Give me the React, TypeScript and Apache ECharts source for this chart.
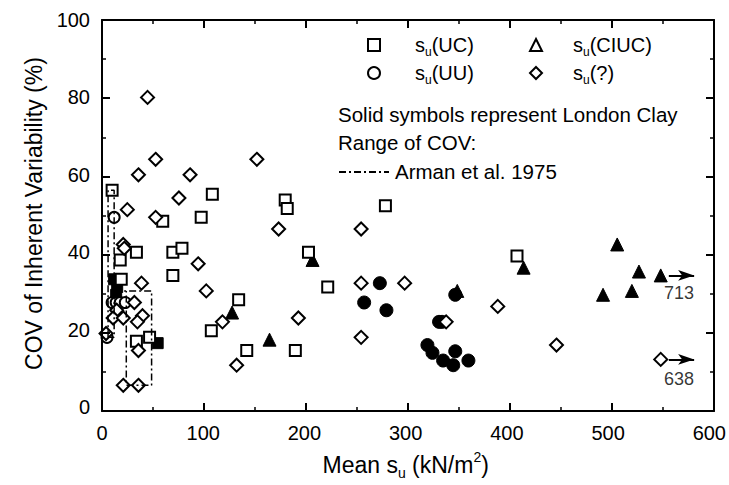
import React, { useEffect, useRef } from "react";
import * as echarts from "echarts";

// Mean su (kN/m2), COV (%)
const ucOpen: number[][] = [
  [10, 56], [60, 48], [98, 49], [109, 55], [181, 53.5], [183, 51.3], [280, 52],
  [204, 40], [223, 31], [410, 39], [70, 40], [79, 41], [70, 34], [34, 40],
  [18, 38], [19, 33], [135, 27.7], [108, 19.7], [143, 14.6], [191, 14.6],
  [34, 17], [47, 18],
];
const ucSolid: number[][] = [[12, 33], [15, 31], [14, 29], [55, 16.5]];
const uuOpen: number[][] = [[12, 49], [5, 18], [10, 27], [14, 27], [18, 27], [23, 27]];
const uuSolid: number[][] = [
  [274.5, 32], [259, 27], [281, 25], [333, 22], [336, 22], [321.5, 16],
  [326.5, 14], [337, 12], [347, 10.8], [349, 14.4], [362, 12], [349, 29],
];
const ciucSolid: number[][] = [
  [208, 38], [128.5, 24.4], [165.5, 17.4], [351, 30], [416.5, 36], [495, 29],
  [509, 42], [523.5, 30], [530.5, 35], [552, 34],
];
const unknownOpen: number[][] = [
  [45, 80], [53, 64], [36, 60], [87, 60], [153, 64], [76, 54], [25, 51],
  [53, 49], [21, 42], [22, 41], [95, 37], [103, 30], [174.5, 46], [256, 46],
  [39, 32], [256, 32], [299, 32], [32, 27], [14.5, 25], [11, 23], [21, 23],
  [40, 23.6], [35, 22], [119, 22], [194, 23], [4, 19], [36, 14.6], [256, 18],
  [133, 10.8], [21, 5.6], [36, 5.6], [340, 22], [391, 26], [449, 16], [552, 12.3],
];
// Arman et al. 1975 range boxes
const armanBox1: number[][] = [[6, 18], [6, 56], [12, 56], [12, 18], [6, 18]];
const armanBox2: number[][] = [[12, 30], [49, 30], [49, 5.6], [24, 5.6], [24, 30]];
// off-scale values (arrows)
const offScale = [
  { from: [560, 34], to: [585, 34], label: "713", labelAt: [570, 29.5] },
  { from: [560, 12.3], to: [585, 12.3], label: "638", labelAt: [570, 7.2] },
];
const xTicks = [0, 100, 200, 300, 400, 500, 600];
const yTicks = [0, 20, 40, 60, 80, 100];
const noteLines = ["Solid symbols represent London Clay", "Range of COV:", "Arman et al. 1975"];

const FONT = "Liberation Sans";
const GRID = { left: 102, right: 15, top: 20, bottom: 74 };

export default function App() {
  const ref = useRef<HTMLDivElement>(null);
  const frameRef = useRef<HTMLDivElement>(null);
  useEffect(() => {
    if (!ref.current || !frameRef.current) return;
    const chart = echarts.init(ref.current, null, { renderer: "svg" });
    const frame = echarts.init(frameRef.current, null, { renderer: "svg" });
    const xMin = xTicks[0];
    const xMax = xTicks[xTicks.length - 1];
    const yMin = yTicks[0];
    const yMax = yTicks[yTicks.length - 1];
    const openStyle = { color: "#fff", borderColor: "#000", borderWidth: 2, opacity: 1 };
    const solidStyle = { color: "#000", borderColor: "#000", borderWidth: 1, opacity: 1 };

    // main chart: data, labels, legend, notes (no axis lines)
    const plainAxis = (pos: string, mn: number, mx: number, iv: number) => ({
      type: "value", min: mn, max: mx, interval: iv, position: pos,
      axisLine: { show: false, onZero: false },
      axisTick: { show: false },
      minorTick: { show: false },
      splitLine: { show: false },
      axisLabel: { show: false },
    });
    const legendRich = {
      p: { fontSize: 20, fontFamily: FONT, color: "#000", lineHeight: 26 },
      s: { fontSize: 20, fontFamily: FONT, color: "#000", lineHeight: 26 },
      u: { fontSize: 12, fontFamily: FONT, color: "#000", lineHeight: 12, verticalAlign: "bottom" },
    };
    const mkLegend = (name: string, left: number, top: number, pad: number) => ({
      data: [name], left, top, itemWidth: 12, itemHeight: 12, padding: 0,
      formatter: (n: string) => `{p|s}{u|u}{s|(${n})}`,
      textStyle: { rich: { ...legendRich, p: { ...legendRich.p, padding: [0, 0, 0, pad] } } },
      selectedMode: false,
    });
    const nameRich = {
      a: { fontSize: 23, fontFamily: FONT, color: "#000", lineHeight: 30 },
      sub: { fontSize: 14, fontFamily: FONT, color: "#000", lineHeight: 14, verticalAlign: "bottom" },
      sup: { fontSize: 14, fontFamily: FONT, color: "#000", lineHeight: 14, verticalAlign: "top" },
    };
    const noteFont = `20.5px "${FONT}"`;
    chart.setOption({
      animation: false,
      grid: GRID,
      legend: [
        mkLegend("UC", 367, 35, 30),
        mkLegend("CIUC", 529, 35, 26),
        mkLegend("UU", 367, 63, 30),
        mkLegend("?", 529, 63, 26),
      ],
      graphic: [
        { type: "text", left: 338, top: 104, style: { text: noteLines[0], font: noteFont, fill: "#000" } },
        { type: "text", left: 338, top: 132, style: { text: noteLines[1], font: noteFont, fill: "#000" } },
        {
          type: "line", shape: { x1: 339, y1: 172, x2: 389, y2: 172 },
          style: { stroke: "#000", lineWidth: 2, lineDash: [7, 3, 2, 3] },
        },
        { type: "text", left: 395, top: 161, style: { text: noteLines[2], font: noteFont, fill: "#000" } },
      ],
      xAxis: [
        {
          ...plainAxis("bottom", xMin, xMax, 100),
          axisLabel: { show: true, fontSize: 20, color: "#000", margin: 16, fontFamily: FONT },
          name: "{a|Mean s}{sub|u}{a| (kN/m}{sup|2}{a|)}",
          nameLocation: "middle",
          nameGap: 43,
          nameTextStyle: { rich: nameRich },
        },
      ],
      yAxis: [
        {
          ...plainAxis("left", yMin, yMax, 20),
          axisLabel: { show: true, fontSize: 20, color: "#000", margin: 12, fontFamily: FONT },
          name: "COV of Inherent Variability (%)",
          nameLocation: "middle",
          nameGap: 57,
          nameTextStyle: { fontSize: 23, color: "#000", fontFamily: FONT },
        },
      ],
      series: [
        {
          type: "line", data: armanBox1, symbol: "none", silent: true,
          lineStyle: { color: "#000", width: 1.5, type: [7, 3, 2, 3] },
        },
        {
          type: "line", data: armanBox2, symbol: "none", silent: true,
          lineStyle: { color: "#000", width: 1.5, type: [7, 3, 2, 3] },
        },
        { name: "UC_LC", type: "scatter", data: ucSolid, symbol: "rect", symbolSize: 11, itemStyle: solidStyle },
        { name: "UU_LC", type: "scatter", data: uuSolid, symbol: "circle", symbolSize: 13, itemStyle: solidStyle },
        {
          name: "CIUC_LC", type: "scatter", data: ciucSolid, symbol: "triangle", symbolSize: 13,
          itemStyle: solidStyle,
          markLine: {
            silent: true,
            symbol: ["none", "arrow"],
            label: { show: false },
            lineStyle: { color: "#000", width: 2, type: "solid", opacity: 1 },
            data: offScale.map((o) => [{ coord: o.from }, { coord: o.to }]),
          },
        },
        { name: "UC", type: "scatter", data: ucOpen, symbol: "rect", symbolSize: 11, itemStyle: openStyle },
        { name: "UU", type: "scatter", data: uuOpen, symbol: "circle", symbolSize: 11, itemStyle: openStyle },
        { name: "CIUC", type: "scatter", data: [], symbol: "triangle", symbolSize: 12, itemStyle: openStyle },
        { name: "?", type: "scatter", data: unknownOpen, symbol: "diamond", symbolSize: 13, itemStyle: openStyle },
        {
          name: "notes", type: "scatter", symbolSize: 1, silent: true,
          itemStyle: { color: "rgba(0,0,0,0)" },
          data: offScale.map((o) => ({ value: o.labelAt, name: o.label })),
          label: { show: true, position: "inside", formatter: "{b}", fontSize: 18, color: "#000", fontFamily: FONT },
        },
      ],
    });

    // overlay chart: the boxed frame with inward major and minor ticks
    const frameAxis = (pos: string, mn: number, mx: number, iv: number) => ({
      type: "value", min: mn, max: mx, interval: iv, position: pos,
      axisLine: { show: true, onZero: false, lineStyle: { color: "#000", width: 2 } },
      axisTick: { show: true, inside: true, length: 8, lineStyle: { color: "#000", width: 2 } },
      minorTick: { show: true, splitNumber: 2, length: 4, lineStyle: { color: "#000", width: 1.5 } },
      splitLine: { show: false },
      axisLabel: { show: false },
    });
    frame.setOption({
      animation: false,
      grid: GRID,
      xAxis: [frameAxis("bottom", xMin, xMax, 100), frameAxis("top", xMin, xMax, 100)],
      yAxis: [frameAxis("left", yMin, yMax, 20), frameAxis("right", yMin, yMax, 20)],
      series: [{ type: "scatter", data: [], silent: true }],
    });
    return () => {
      chart.dispose();
      frame.dispose();
    };
  }, []);
  return (
    <div style={{ position: "fixed", left: 0, top: 0, width: 729, height: 485, background: "#fff" }}>
      <div ref={ref} style={{ position: "absolute", left: 0, top: 0, width: 729, height: 485 }} />
      <div
        ref={frameRef}
        style={{ position: "absolute", left: 0, top: 0, width: 729, height: 485, pointerEvents: "none" }}
      />
    </div>
  );
}
